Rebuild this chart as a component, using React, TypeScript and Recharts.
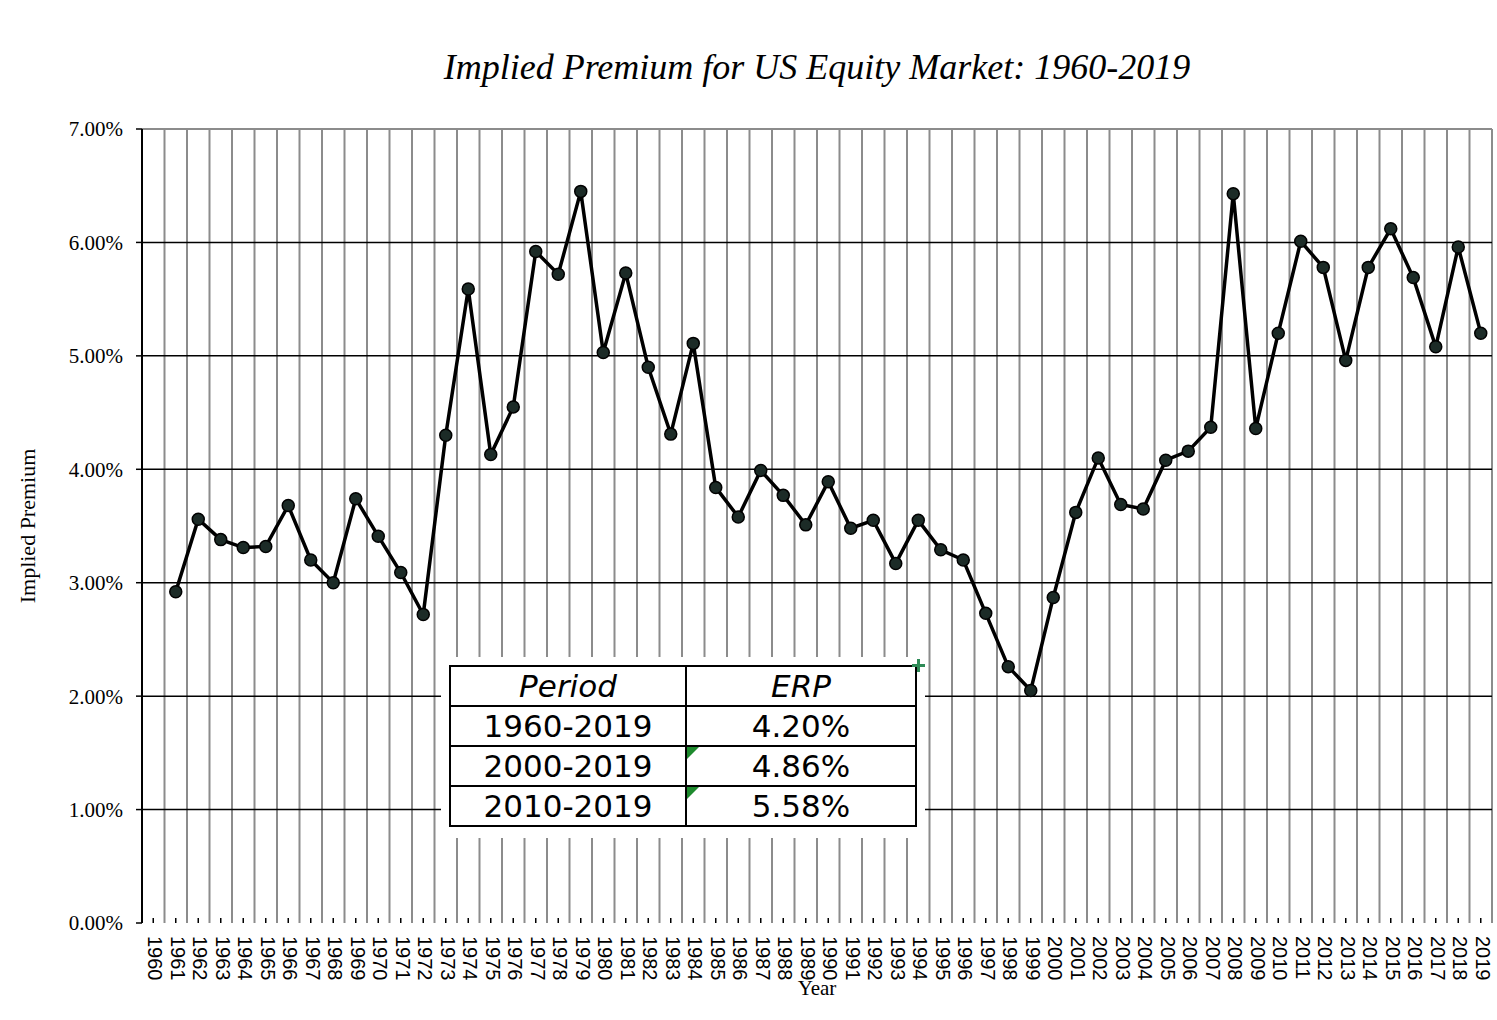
import { LineChart, Line, XAxis, YAxis, CartesianGrid } from 'recharts'

const years = [
	1961, 1962, 1963, 1964, 1965, 1966, 1967, 1968, 1969, 1970, 1971, 1972, 1973, 1974, 1975, 1976, 1977, 1978, 1979, 1980,
	1981, 1982, 1983, 1984, 1985, 1986, 1987, 1988, 1989, 1990, 1991, 1992, 1993, 1994, 1995, 1996, 1997, 1998, 1999, 2000,
	2001, 2002, 2003, 2004, 2005, 2006, 2007, 2008, 2009, 2010, 2011, 2012, 2013, 2014, 2015, 2016, 2017, 2018, 2019,
]
const premiums = [
	2.92, 3.56, 3.38, 3.31, 3.32, 3.68, 3.2, 3.0, 3.74, 3.41, 3.09, 2.72, 4.3, 5.59, 4.13, 4.55, 5.92, 5.72, 6.45, 5.03,
	5.73, 4.9, 4.31, 5.11, 3.84, 3.58, 3.99, 3.77, 3.51, 3.89, 3.48, 3.55, 3.17, 3.55, 3.29, 3.2, 2.73, 2.26, 2.05, 2.87,
	3.62, 4.1, 3.69, 3.65, 4.08, 4.16, 4.37, 6.43, 4.36, 5.2, 6.01, 5.78, 4.96, 5.78, 6.12, 5.69, 5.08, 5.96, 5.2,
]
const axisYears = [
	1960, 1961, 1962, 1963, 1964, 1965, 1966, 1967, 1968, 1969, 1970, 1971, 1972, 1973, 1974, 1975, 1976, 1977, 1978, 1979,
	1980, 1981, 1982, 1983, 1984, 1985, 1986, 1987, 1988, 1989, 1990, 1991, 1992, 1993, 1994, 1995, 1996, 1997, 1998, 1999,
	2000, 2001, 2002, 2003, 2004, 2005, 2006, 2007, 2008, 2009, 2010, 2011, 2012, 2013, 2014, 2015, 2016, 2017, 2018, 2019,
]
const yTicks = [0, 1, 2, 3, 4, 5, 6, 7]
const periods = ['1960-2019', '2000-2019', '2010-2019']
const erps = ['4.20%', '4.86%', '5.58%']

const data = years.map((year, i) => ({ year, premium: premiums[i] }))
// gridlines sit between the years, labels on the years
const boundaries = [...axisYears.map((y) => y - 0.5), axisYears[axisYears.length - 1] + 0.5]
const xDomain = [boundaries[0], boundaries[boundaries.length - 1]]

const serif = '"Liberation Serif", "Times New Roman", serif'
const sans = '"Liberation Sans", Arial, sans-serif'

const YearTick = (props: any) => {
	const { x, y, payload } = props
	return (
		<g>
			<line x1={x} x2={x} y1={y - 5} y2={y} stroke="#000" strokeWidth={1.5} />
			<text
				transform={`translate(${x + 2},${y + 13}) rotate(90)`}
				textAnchor="start"
				dominantBaseline="central"
				fontFamily={sans}
				fontSize={20}
				fill="#000"
			>
				{payload.value}
			</text>
		</g>
	)
}

const cell = {
	border: '2.5px solid #000',
	padding: 0,
	height: 38,
	lineHeight: '36px',
	textAlign: 'center' as const,
	position: 'relative' as const,
}

const Flag = () => (
	<div
		style={{
			position: 'absolute',
			left: 0,
			top: 0,
			width: 0,
			height: 0,
			borderTop: '12px solid #1e8a2e',
			borderRight: '12px solid transparent',
		}}
	/>
)

export default function App() {
	return (
		<div style={{ position: 'absolute', left: 0, top: 0, width: 1497, height: 1020, background: '#fff' }}>
			<div
				style={{
					position: 'absolute',
					left: 142,
					width: 1350,
					top: 46,
					textAlign: 'center',
					fontFamily: serif,
					fontStyle: 'italic',
					fontSize: 36,
				}}
			>
				Implied Premium for US Equity Market: 1960-2019
			</div>
			<LineChart width={1497} height={1020} data={data} margin={{ top: 129, right: 5, left: 0, bottom: 0 }}>
				<XAxis
					xAxisId="grid"
					type="number"
					dataKey="year"
					domain={xDomain}
					ticks={boundaries}
					interval={0}
					tickFormatter={() => ''}
					tickSize={8}
					tickLine={{ stroke: '#000', strokeWidth: 1.5 }}
					axisLine={{ stroke: '#000', strokeWidth: 2 }}
					height={0}
				/>
				<XAxis
					xAxisId="year"
					type="number"
					dataKey="year"
					domain={xDomain}
					ticks={axisYears}
					interval={0}
					tick={<YearTick />}
					tickLine={false}
					axisLine={false}
					tickSize={0}
					tickMargin={0}
					height={97}
					label={{
						value: 'Year',
						position: 'insideBottom',
						offset: 25,
						style: { fontFamily: serif, fontSize: 21, fill: '#000' },
					}}
				/>
				<YAxis
					domain={[0, 7]}
					ticks={yTicks}
					interval={0}
					width={142}
					tickSize={6}
					tickMargin={13}
					tickFormatter={(v: number) => `${v.toFixed(2)}%`}
					tick={{ fontFamily: serif, fontSize: 21, fill: '#000' }}
					tickLine={{ stroke: '#000', strokeWidth: 1.5 }}
					axisLine={{ stroke: '#000', strokeWidth: 2 }}
					label={{
						value: 'Implied Premium',
						angle: -90,
						position: 'insideLeft',
						offset: 27,
						style: { textAnchor: 'middle', fontFamily: serif, fontSize: 22, fill: '#000' },
					}}
				/>
				<CartesianGrid xAxisId="grid" horizontalValues={[7]} stroke="#8c8c8c" strokeWidth={2} />
				<CartesianGrid
					xAxisId="grid"
					vertical={false}
					horizontalValues={yTicks.filter((t) => t > 0 && t < 7)}
					stroke="#000"
					strokeWidth={1.5}
				/>
				<Line
					xAxisId="year"
					type="linear"
					dataKey="premium"
					stroke="#000"
					strokeWidth={3.5}
					dot={{ r: 6, fill: '#1c2b27', stroke: '#000', strokeWidth: 1.5 }}
					isAnimationActive={false}
				/>
			</LineChart>
			<div style={{ position: 'absolute', left: 441, top: 657, width: 484, height: 181, background: '#fff' }} />
			<table
				style={{
					position: 'absolute',
					left: 449,
					top: 665,
					width: 468,
					borderCollapse: 'collapse',
					fontFamily: '"DejaVu Sans", Verdana, sans-serif',
					fontSize: 31,
					color: '#000',
				}}
			>
				<tbody>
					<tr>
						<td style={{ ...cell, width: 234, fontStyle: 'italic' }}>Period</td>
						<td style={{ ...cell, fontStyle: 'italic' }}>ERP</td>
					</tr>
					{periods.map((p, i) => (
						<tr key={p}>
							<td style={cell}>{p}</td>
							<td style={cell}>
								{i > 0 && <Flag />}
								{erps[i]}
							</td>
						</tr>
					))}
				</tbody>
			</table>
			<div style={{ position: 'absolute', left: 912, top: 664, width: 13, height: 3, background: '#2e8b57' }} />
			<div style={{ position: 'absolute', left: 917, top: 659, width: 3, height: 13, background: '#2e8b57' }} />
		</div>
	)
}
